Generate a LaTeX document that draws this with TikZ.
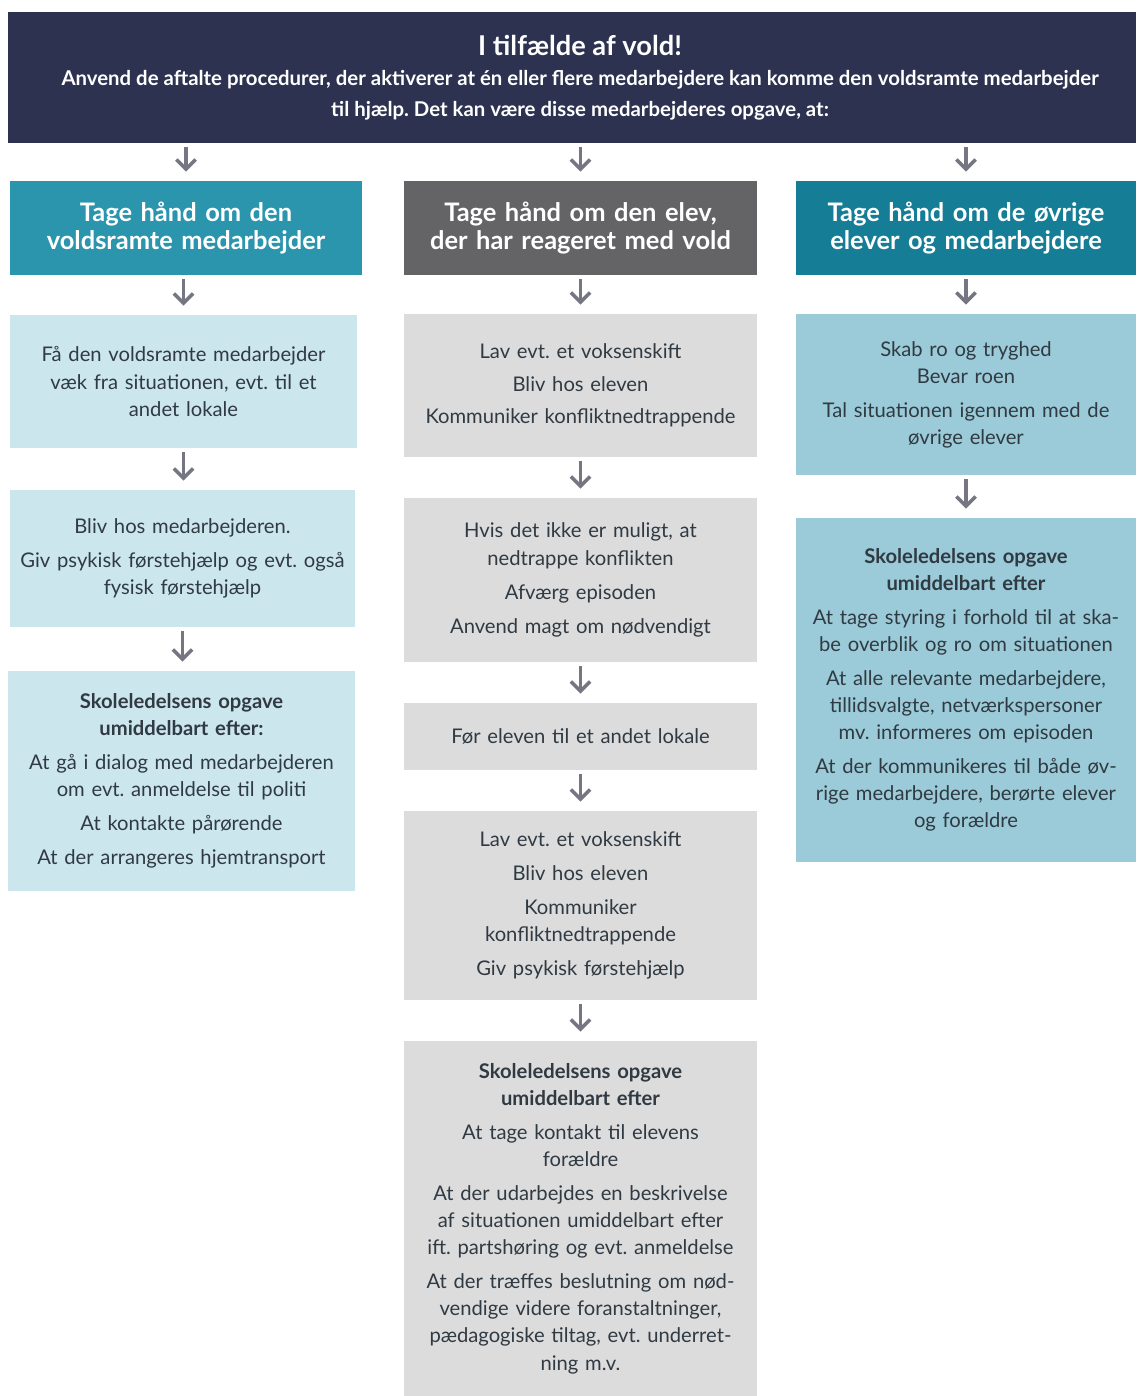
\documentclass[tikz,border=0pt]{standalone}
\usepackage{fontspec}
\setmainfont{Lato}
\frenchspacing
\usetikzlibrary{arrows.meta,positioning}

\definecolor{navy}{RGB}{45,50,80}
\definecolor{tealA}{RGB}{44,149,174}
\definecolor{greyA}{RGB}{100,100,102}
\definecolor{tealB}{RGB}{22,125,150}
\definecolor{paleblue}{RGB}{204,230,238}
\definecolor{palegrey}{RGB}{220,220,221}
\definecolor{midblue}{RGB}{155,202,216}
\definecolor{arrowgrey}{RGB}{118,118,130}
\definecolor{bodytext}{RGB}{48,58,66}

\tikzset{
  hdr/.style={text=white, font=\fontsize{14.5}{16}\selectfont\bfseries, align=center, inner sep=0pt},
  box/.style={text=bodytext, font=\fontsize{11.5}{15.4}\selectfont, align=center, inner sep=0pt},
  flow/.style={draw=arrowgrey, line width=2pt, -{Straight Barb[length=5.5pt,width=11pt]},
    shorten <=0.08cm, shorten >=0.18cm}
}

\begin{document}
\begin{tikzpicture}[x=0.02cm,y=-0.02cm]
    \useasboundingbox[fill=white] (0,0) rectangle (1136,1396);

    % top banner
    \node[fill=navy, text=white, align=center, inner sep=0pt, minimum width=22.56cm, minimum height=2.62cm] (banner) at (572,77.5) {};
    \node[text=white, font=\fontsize{15.5}{17}\selectfont\bfseries] (title) at (580,45) {I tilfælde af vold!};
    \node[text=white, font=\fontsize{11.6}{17.8}\selectfont\bfseries, align=center, below=1.5pt of title] (sub)
        {Anvend de aftalte procedurer, der aktiverer at én eller flere medarbejdere kan komme den voldsramte medarbejder\\
         til hjælp. Det kan være disse medarbejderes opgave, at:};

    % headers
    \node[hdr, fill=tealA, text width=7.04cm, minimum height=1.88cm] (hdrA) at (186,228)
        {Tage hånd om den\\voldsramte medarbejder};
    \node[hdr, fill=greyA, text width=7.06cm, minimum height=1.88cm] (hdrB) at (580.5,228)
        {Tage hånd om den elev,\\der har reageret med vold};
    \node[hdr, fill=tealB, text width=6.8cm, minimum height=1.88cm] (hdrC) at (966,228)
        {Tage hånd om de øvrige\\elever og medarbejdere};

    % column 1
    \node[box, fill=paleblue, text width=6.94cm, minimum height=2.66cm] (a1) at (183.5,381.5)
        {Få den voldsramte medarbejder\\væk fra situationen, evt. til et\\andet lokale};
    \node[box, fill=paleblue, text width=6.9cm, minimum height=2.74cm] (a2) at (182.5,558.5)
        {Bliv hos medarbejderen.\\[4pt]Giv psykisk førstehjælp og evt. også\\fysisk førstehjælp};
    \node[box, fill=paleblue, text width=6.94cm, minimum height=4.4cm] (a3) at (181.5,781)
        {\textbf{Skoleledelsens opgave}\\\textbf{umiddelbart efter:}\\[4pt]
         At gå i dialog med medarbejderen\\om evt. anmeldelse til politi\\[4pt]
         At kontakte pårørende\\[4pt]At der arrangeres hjemtransport};

    % column 2
    \node[box, fill=palegrey, text width=7.06cm, minimum height=2.86cm] (b1) at (580.5,385.5)
        {Lav evt. et voksenskift\\[3pt]Bliv hos eleven\\[3pt]Kommuniker konfliktnedtrappende};
    \node[box, fill=palegrey, text width=7.06cm, minimum height=3.28cm] (b2) at (580.5,580)
        {Hvis det ikke er muligt, at\\nedtrappe konflikten\\[4pt]Afværg episoden\\[4pt]Anvend magt om nødvendigt};
    \node[box, fill=palegrey, text width=7.06cm, minimum height=1.34cm] (b3) at (580.5,736.5)
        {Før eleven til et andet lokale};
    \node[box, fill=palegrey, text width=7.06cm, minimum height=3.78cm] (b4) at (580.5,905.5)
        {Lav evt. et voksenskift\\[4pt]Bliv hos eleven\\[4pt]Kommuniker\\konfliktnedtrappende\\[4pt]Giv psykisk førstehjælp};
    \node[box, fill=palegrey, text width=7.06cm, minimum height=7.1cm] (b5) at (580.5,1218.5)
        {\textbf{Skoleledelsens opgave}\\\textbf{umiddelbart efter}\\[4pt]
         At tage kontakt til elevens\\forældre\\[4pt]
         At der udarbejdes en beskrivelse\\af situationen umiddelbart efter\\ift. partshøring og evt. anmeldelse\\[4pt]
         At der træffes beslutning om nød-\\vendige videre foranstaltninger,\\pædagogiske tiltag, evt. underret-\\ning m.v.};

    % column 3
    \node[box, fill=midblue, text width=6.8cm, minimum height=3.22cm] (c1) at (966,394.5)
        {Skab ro og tryghed\\Bevar roen\\[4pt]Tal situationen igennem med de\\øvrige elever};
    \node[box, fill=midblue, text width=6.8cm, minimum height=6.88cm] (c2) at (966,690)
        {\textbf{Skoleledelsens opgave}\\\textbf{umiddelbart efter}\\[4pt]
         At tage styring i forhold til at ska-\\be overblik og ro om situationen\\[4pt]
         At alle relevante medarbejdere,\\tillidsvalgte, netværkspersoner\\mv. informeres om episoden\\[4pt]
         At der kommunikeres til både øv-\\rige medarbejdere, berørte elever\\og forældre};

    % arrows
    \draw[flow] (hdrA.north |- banner.south) -- (hdrA.north);
    \draw[flow] (hdrB.north |- banner.south) -- (hdrB.north);
    \draw[flow] (hdrC.north |- banner.south) -- (hdrC.north);
    \draw[flow] (a1.north |- hdrA.south) -- (a1.north);
    \draw[flow] (a1.south) -- (a1.south |- a2.north);
    \draw[flow] (a2.south) -- (a2.south |- a3.north);
    \draw[flow] (hdrB.south) -- (b1.north);
    \draw[flow] (b1.south) -- (b2.north);
    \draw[flow] (b2.south) -- (b3.north);
    \draw[flow] (b3.south) -- (b4.north);
    \draw[flow] (b4.south) -- (b5.north);
    \draw[flow] (hdrC.south) -- (c1.north);
    \draw[flow] (c1.south) -- (c2.north);
\end{tikzpicture}
\end{document}
